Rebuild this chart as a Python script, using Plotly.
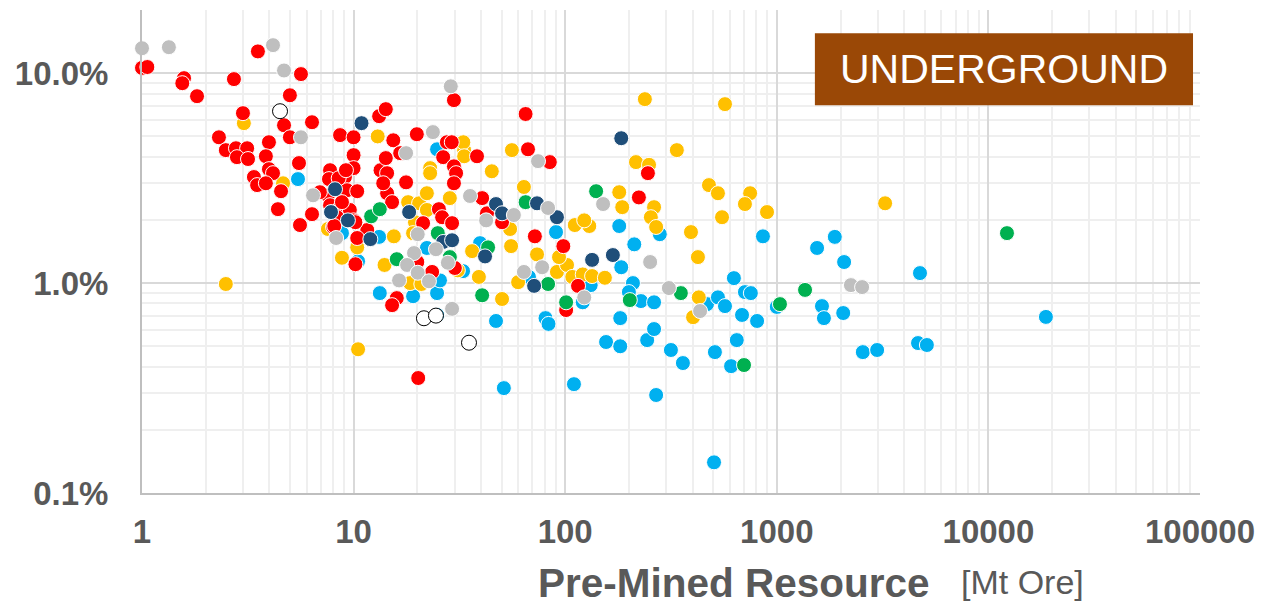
import plotly.graph_objects as go

# ---- data (x: pre-mined resource [Mt ore], y: grade [%]) ----
red_x = [1.0, 1.06, 1.58, 1.55, 1.82, 2.72, 3.53, 5.64, 5.0, 3.0, 4.69, 5.0, 6.36, 2.31, 2.49, 2.78, 3.14, 2.81, 3.17, 3.98,
         3.85, 3.98, 4.16, 3.38, 3.50, 3.85, 4.54, 5.52, 4.39, 5.58, 6.36, 8.63, 10.0, 13.2, 14.2, 15.4, 10.0, 10.0, 7.74, 9.1,
         13.4, 14.2, 14.4, 14.4, 9.31, 10.4, 7.56, 7.74, 8.63, 9.6, 10.0, 11.6, 10.4, 8.0, 7.65, 8.5, 6.93, 8.35, 8.1, 10.2,
         10.2, 19.9, 16.6, 13.8, 15.2, 17.7, 21.3, 16.0, 15.2, 20.2, 26.5, 38.3, 66.7, 84.6, 29.8, 30.5, 29.8, 40.5, 25.3, 26.2,
         29.2, 42.7, 50.3, 71.9, 98, 23.5, 115, 101, 65, 29.8, 27.6, 29.1, 9.2, 8.81, 30.1, 20.0, 246, 223]
red_y = [10.6, 10.7, 9.47, 8.96, 7.77, 9.37, 12.7, 9.9, 7.85, 6.45, 5.65, 4.95, 5.84, 4.95, 4.30, 4.39, 4.39, 3.98, 3.90, 4.69,
         4.02, 3.49, 3.34, 3.2, 2.93, 2.99, 2.74, 3.73, 2.25, 1.89, 2.13, 5.07, 4.95, 6.24, 6.74, 4.79, 4.07, 3.53, 3.45, 3.2,
         3.45, 3.94, 3.34, 2.68, 2.77, 2.74, 2.62, 2.35, 2.28, 2.23, 1.99, 1.79, 1.64, 1.85, 3.13, 3.16, 2.71, 2.06, 1.87, 1.23,
         1.95, 5.12, 4.16, 2.99, 2.43, 3.02, 1.93, 0.848, 0.785, 0.353, 3.98, 4.02, 4.34, 3.77, 3.60, 3.34, 2.99, 2.54, 2.25, 2.06,
         1.93, 2.15, 1.95, 1.67, 1.50, 1.13, 0.97, 0.744, 6.39, 7.44, 4.69, 4.69, 3.45, 2.43, 1.18, 1.26, 3.34, 2.56]

gray_x = [1.0, 1.34, 4.16, 4.69, 5.64, 6.43, 8.27, 17.7, 23.7, 28.8, 74.4, 35.5, 57.2, 42.3, 83, 151, 252, 309, 434, 2240,
          2530, 123, 77.8, 63.8, 20.1, 19.3, 17.9, 20.1, 16.4, 22.7, 24.5, 27.9, 29.2]
gray_y = [13.15, 13.3, 13.6, 10.3, 4.95, 2.62, 1.64, 4.16, 5.24, 8.66, 3.81, 2.6, 2.11, 1.99, 2.28, 2.38, 1.26, 0.947, 0.736, 0.978,
          0.957, 0.855, 1.19, 1.13, 1.71, 1.39, 1.22, 1.12, 1.03, 1.02, 1.45, 1.25, 0.754]

navy_x = [10.9, 8.17, 7.82, 9.4, 12.0, 18.3, 26.5, 29.2, 41.8, 47.1, 50.3, 73.6, 91.4, 71.3, 134, 168, 184]
navy_y = [5.78, 2.8, 2.18, 1.99, 1.62, 2.18, 1.57, 1.6, 1.34, 2.38, 2.15, 2.4, 2.06, 0.97, 1.29, 1.36, 4.9]

green_x = [12.1, 13.3, 25.0, 28.5, 16.0, 43.2, 40.5, 65, 140, 83, 101, 202, 352, 1035, 1360, 700, 12240]
green_y = [2.08, 2.25, 1.73, 1.33, 1.30, 1.48, 0.875, 2.43, 2.74, 0.99, 0.81, 0.83, 0.896, 0.794, 0.928, 0.407, 1.73]

blue_x = [5.46, 13.2, 8.81, 10.5, 13.3, 19.1, 24.8, 24.8, 22.2, 24.8, 32.9, 25.6, 39.6, 47.1, 51.3, 67.4, 90.5, 132, 121, 80.7,
          83.4, 180, 212, 184, 209, 200, 228, 263, 280, 182, 156, 182, 244, 263, 316, 360, 510, 647, 608, 110,
          269, 505, 468, 527, 569, 627, 707, 754, 685, 807, 1000, 860, 1550, 1880, 2080, 1635, 1670, 2060, 2550, 2980,
          4650, 5120, 4750, 18700]
blue_y = [3.13, 1.66, 1.73, 1.27, 0.896, 0.866, 0.896, 0.705, 1.47, 4.34, 1.14, 1.03, 1.55, 0.66, 0.316, 1.07, 1.75, 0.978, 0.81, 0.681,
          0.639, 1.87, 1.53, 1.19, 1.0, 0.906, 0.821, 0.81, 1.71, 0.681, 0.524, 0.5, 0.535, 0.604, 0.48, 0.416, 0.469, 0.535, 0.402, 0.33,
          0.293, 0.14, 0.794, 0.855, 0.777, 1.056, 0.906, 0.896, 0.705, 0.66, 0.77, 1.67, 1.47, 1.66, 1.26, 0.777, 0.681, 0.72, 0.469, 0.48,
          0.518, 0.507, 1.116, 0.69]

yellow_x = [3.03, 4.64, 13.0, 7.56, 15.5, 10.4, 8.81, 14.0, 2.49, 10.5, 18.1, 20.4, 22.2, 22.2, 19.5, 19.1, 18.5, 20.9, 33.3, 33.0,
            33.3, 23.0, 23.0, 45.0, 28.5, 56, 63.8, 54.9, 55.5, 73.6, 36.3, 31.1, 39.1, 50.3, 59.9, 91.4, 102, 108, 121, 134,
            154, 93.5, 111, 130, 123, 180, 186, 216, 249, 263, 254, 269, 393, 424, 428, 402, 238, 569, 337, 478,
            527, 748, 707, 899, 551, 3250]
yellow_y = [5.78, 2.99, 5.0, 1.81, 1.67, 1.48, 1.32, 1.22, 0.99, 0.484, 2.43, 2.4, 2.68, 2.23, 1.95, 1.73, 1.0, 0.99, 4.3, 4.69,
            4.02, 3.53, 3.34, 3.41, 2.54, 4.3, 2.87, 1.81, 1.5, 1.37, 1.42, 1.15, 1.07, 0.84, 1.01, 1.13, 1.22, 1.07, 1.10, 1.08,
            1.06, 1.33, 1.89, 1.87, 1.99, 2.71, 2.3, 3.77, 3.66, 2.3, 2.06, 1.85, 1.75, 1.33, 0.855, 0.688, 7.52, 7.12, 4.3, 2.93,
            2.68, 2.68, 2.38, 2.18, 2.06, 2.4]

hollow_x = [4.49, 21.5, 24.5, 35.1]
hollow_y = [6.59, 0.68, 0.70, 0.52]

x_tickvals = [1, 10, 100, 1000, 10000, 100000]
x_ticktext = ["1", "10", "100", "1000", "10000", "100000"]
y_tickvals = [0.1, 1, 10]
y_ticktext = ["0.1%", "1.0%", "10.0%"]

FONT = "Liberation Sans, Arial, sans-serif"
TXT = "#595959"

fig = go.Figure()

series = [
    ("Blue", blue_x, blue_y, "#00B0F0", "white"),
    ("Yellow", yellow_x, yellow_y, "#FFC000", "white"),
    ("Red", red_x, red_y, "#FF0000", "white"),
    ("Green", green_x, green_y, "#00B050", "white"),
    ("Navy", navy_x, navy_y, "#1F4E79", "white"),
    ("Gray", gray_x, gray_y, "#BFBFBF", "white"),
    ("Other", hollow_x, hollow_y, "white", "black"),
]
for name, xs, ys, col, lc in series:
    fig.add_trace(go.Scatter(
        x=xs, y=ys, mode="markers", name=name,
        marker=dict(size=15, color=col, line=dict(color=lc, width=1)),
        showlegend=False, cliponaxis=False,
    ))

fig.update_xaxes(
    type="log", range=[0, 5], automargin=False,
    tickvals=x_tickvals, ticktext=x_ticktext,
    tickfont=dict(family=FONT, size=33, color=TXT, weight="bold"),
    showgrid=True, gridcolor="#D9D9D9", gridwidth=2,
    minor=dict(dtick="D1", showgrid=True, gridcolor="#EFEFEF", gridwidth=2, ticks=""),
    showline=True, linecolor="#BFBFBF", linewidth=2,
    ticks="", ticklabelstandoff=8, zeroline=False,
)
fig.update_yaxes(
    type="log", range=[-1, 1.30103], automargin=False,
    tickvals=y_tickvals, ticktext=y_ticktext,
    tickfont=dict(family=FONT, size=33, color=TXT, weight="bold"),
    showgrid=True, gridcolor="#D9D9D9", gridwidth=2,
    minor=dict(dtick="D1", showgrid=True, gridcolor="#EFEFEF", gridwidth=2, ticks=""),
    showline=True, linecolor="#BFBFBF", linewidth=2,
    ticks="", ticklabelstandoff=25, zeroline=False,
)

fig.add_shape(type="rect", xref="paper", yref="paper",
              x0=0.636, x1=0.9934, y0=0.803, y1=0.952,
              fillcolor="#9A4806", line=dict(width=0), layer="above")
fig.add_annotation(xref="paper", yref="paper", x=0.8147, y=0.878,
                   text="UNDERGROUND", showarrow=False,
                   font=dict(family=FONT, size=41, color="white"),
                   xanchor="center", yanchor="middle")

fig.add_annotation(xref="paper", yref="paper", x=0.372, y=-0.186,
                   text="<b>Pre-Mined Resource</b>", showarrow=False,
                   font=dict(family=FONT, size=40.5, color=TXT),
                   xanchor="left", yanchor="middle")
fig.add_annotation(xref="paper", yref="paper", x=0.772, y=-0.184,
                   text="[Mt Ore]", showarrow=False,
                   font=dict(family=FONT, size=34, color=TXT),
                   xanchor="left", yanchor="middle")

# page body adds an 8px offset; margins compensate so the plot area sits at
# x 142..1200, y 10..493 in the window
fig.update_layout(
    width=1264, height=604,
    margin=dict(l=134, r=72, t=2, b=119),
    paper_bgcolor="white", plot_bgcolor="white",
)

fig.write_html("out.html")
